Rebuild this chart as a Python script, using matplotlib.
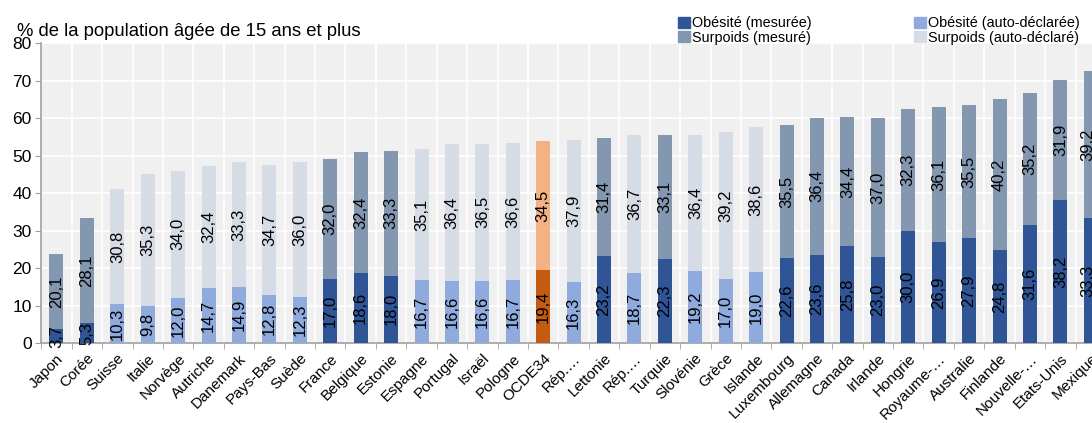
import matplotlib
matplotlib.use("Agg")
import matplotlib.pyplot as plt
import matplotlib.patches as mpatches
import numpy as np

plt.rcParams["font.family"] = ["Liberation Sans", "DejaVu Sans"]

countries = [
    "Japon", "Corée", "Suisse", "Italie", "Norvège", "Autriche", "Danemark",
    "Pays-Bas", "Suède", "France", "Belgique", "Estonie", "Espagne", "Portugal",
    "Israël", "Pologne", "OCDE34", "Rép.…", "Lettonie", "Rép.…", "Turquie",
    "Slovénie", "Grèce", "Islande", "Luxembourg", "Allemagne", "Canada",
    "Irlande", "Hongrie", "Royaume-…", "Australie", "Finlande", "Nouvelle-…",
    "Etats-Unis", "Mexique",
]
obesity = [
    3.7, 5.3, 10.3, 9.8, 12.0, 14.7, 14.9, 12.8, 12.3, 17.0, 18.6, 18.0, 16.7,
    16.6, 16.6, 16.7, 19.4, 16.3, 23.2, 18.7, 22.3, 19.2, 17.0, 19.0, 22.6,
    23.6, 25.8, 23.0, 30.0, 26.9, 27.9, 24.8, 31.6, 38.2, 33.3,
]
overweight = [
    20.1, 28.1, 30.8, 35.3, 34.0, 32.4, 33.3, 34.7, 36.0, 32.0, 32.4, 33.3,
    35.1, 36.4, 36.5, 36.6, 34.5, 37.9, 31.4, 36.7, 33.1, 36.4, 39.2, 38.6,
    35.5, 36.4, 34.4, 37.0, 32.3, 36.1, 35.5, 40.2, 35.2, 31.9, 39.2,
]
# m = mesuré, a = auto-déclaré, o = moyenne OCDE
source = list("mmaaaaaaammmaaaaoamamaaammmmmmmmmmm")

colors_ob = {"m": "#2f5597", "a": "#8faadc", "o": "#c55a11"}
colors_ov = {"m": "#8497b0", "a": "#d6dce5", "o": "#f4b183"}

x = np.arange(len(countries))
fig = plt.figure(figsize=(10.92, 4.23), dpi=100)
ax = fig.add_axes([0.0378, 0.1891, 1 - 0.0378, 0.8983 - 0.1891])
ax.set_facecolor("#f0f0f0")

w = 0.46
ob_cols = [colors_ob[s] for s in source]
ov_cols = [colors_ov[s] for s in source]
b1 = ax.bar(x, obesity, width=w, color=ob_cols, zorder=3)
b2 = ax.bar(x, overweight, bottom=obesity, width=w, color=ov_cols, zorder=3)

for bars, vals in ((b1, obesity), (b2, overweight)):
    ax.bar_label(bars, labels=[f"{v:.1f}".replace(".", ",") for v in vals],
                 label_type="center", rotation=90, fontsize=12, zorder=4)

ax.set_yticks(np.arange(0, 81, 10))
ax.set_xticks(x)
ax.set_xticklabels(countries, rotation=45, ha="right", rotation_mode="anchor",
                   fontsize=11)
ax.set_xticks(np.arange(-0.5, 35, 1), minor=True)
ax.set_xlim(-0.5, 34.04)
ax.set_ylim(0, 80)
ax.tick_params(axis="x", which="major", length=0, pad=6)
ax.tick_params(axis="x", which="minor", length=4, color="#a0a0a0")
ax.tick_params(axis="y", length=4, color="#a0a0a0", labelsize=12.5, pad=3)
ax.grid(axis="y", color="white", linewidth=1.2, zorder=0)
ax.grid(axis="x", which="minor", color="white", linewidth=1.2, zorder=0)
for s in ("top", "right"):
    ax.spines[s].set_visible(False)
for s in ("left", "bottom"):
    ax.spines[s].set_color("#a0a0a0")
    ax.spines[s].set_linewidth(1.2)

fig.text(0.016, 0.905, "% de la population âgée de 15 ans et plus",
         fontsize=13.3, va="bottom")

handles = [
    mpatches.Patch(color=colors_ob["m"], label="Obésité (mesurée)"),
    mpatches.Patch(color=colors_ov["m"], label="Surpoids (mesuré)"),
    mpatches.Patch(color=colors_ob["a"], label="Obésité (auto-déclarée)"),
    mpatches.Patch(color=colors_ov["a"], label="Surpoids (auto-déclaré)"),
]
fig.legend(handles=handles, ncol=2, loc="upper left", bbox_to_anchor=(0.617, 0.972),
           frameon=False, fontsize=10.4, handlelength=0.8, handleheight=0.8,
           handletextpad=0.15, columnspacing=7.1, labelspacing=0.05,
           borderaxespad=0, borderpad=0.3)

fig.savefig("out.png", dpi=100)
